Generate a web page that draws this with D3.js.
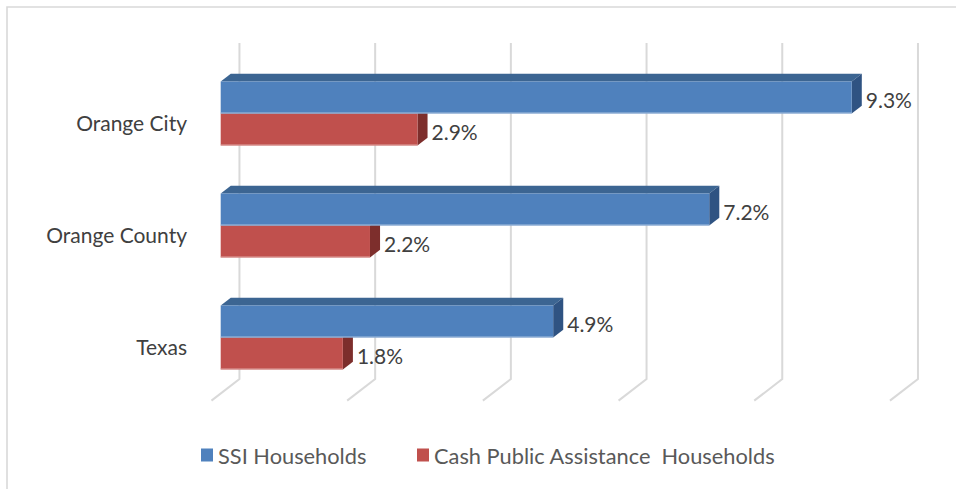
<!DOCTYPE html>
<html>
<head>
<meta charset="utf-8">
<script src="https://cdn.jsdelivr.net/npm/d3@7"></script>
<style>
  html, body { margin: 0; padding: 0; background: #ffffff; }
  svg { display: block; }
  text { font-family: Lato, "Open Sans", sans-serif; }
</style>
</head>
<body>
<svg id="chart" width="956" height="489"></svg>
<script>
// Share of households receiving income support, by area (%)
const categories = ["Orange City", "Orange County", "Texas"];
const seriesNames = ["SSI Households", "Cash Public Assistance  Households"];
const ssiValues = [9.3, 7.2, 4.9];
const cashValues = [2.9, 2.2, 1.8];
const xTicks = [0, 2, 4, 6, 8, 10];

const colors = {
  front: ["#4f81bd", "#c0504d"],
  top:   ["#3c6592", "#933c3a"],
  side:  ["#2f5382", "#7d2e2c"],
  edge:  ["#a9c0de", "#e0a4a2"]
};

const svg = d3.select("#chart");
const W = 956, H = 489;

// Oblique 3-D projection: full depth of the plot box, and where the bars sit in it
const depth = [28, -21.5];
const barFront = 0.33, barBack = 0.69;
const shift = f => [(f - barFront) * depth[0], (f - barFront) * depth[1]];
const wall = shift(1), floorFront = shift(0), barDepth = shift(barBack);

// Scales on the plane of the bars' front faces
const x = d3.scaleLinear().domain([0, 10]).range([220.7, 899.2]);
const y = d3.scaleBand().domain(categories)
  .range([57.5, 393.5]).paddingInner(0.4286).paddingOuter(0.2143);
const ySub = d3.scaleBand().domain(seriesNames).range([0, y.bandwidth()]);

// Chart frame
svg.append("path")
  .attr("d", `M7,${H} L7,7 L${W},7`)
  .attr("fill", "none").attr("stroke", "#d9d9d9").attr("stroke-width", 1.6);

// Gridlines: back wall verticals folding into the floor
const yTop = y.range()[0], yBot = y.range()[1];
svg.append("g").selectAll("path").data(xTicks).join("path")
  .attr("d", t => {
    const xb = x(t) + wall[0];
    return `M${xb},${yTop + wall[1]} L${xb},${yBot + wall[1]} ` +
           `L${x(t) + floorFront[0]},${yBot + floorFront[1]}`;
  })
  .attr("fill", "none").attr("stroke", "#d9d9d9").attr("stroke-width", 2);

// Bars: lower series first so the upper bar's front face hides its top
const rows = [];
categories.forEach((c, i) => {
  [ssiValues[i], cashValues[i]].forEach((v, s) => rows.push({ c, s, v }));
});
const drawOrder = rows.slice().sort((a, b) =>
  categories.indexOf(a.c) - categories.indexOf(b.c) || b.s - a.s);

const bars = svg.append("g").selectAll("g").data(drawOrder).join("g");

bars.each(function(d) {
  const g = d3.select(this);
  const x0 = x(0), x1 = x(d.v);
  const y0 = y(d.c) + ySub(seriesNames[d.s]);
  const y1 = y0 + ySub.bandwidth();
  const [dx, dy] = barDepth;
  // top face
  g.append("path")
    .attr("d", `M${x0},${y0} L${x0 + dx},${y0 + dy} L${x1 + dx},${y0 + dy} L${x1},${y0} Z`)
    .attr("fill", colors.top[d.s]);
  // end face
  g.append("path")
    .attr("d", `M${x1},${y0} L${x1 + dx},${y0 + dy} L${x1 + dx},${y1 + dy} L${x1},${y1} Z`)
    .attr("fill", colors.side[d.s]);
  // front face
  g.append("rect")
    .attr("x", x0).attr("y", y0)
    .attr("width", x1 - x0).attr("height", y1 - y0)
    .attr("fill", colors.front[d.s]);
  g.append("line")
    .attr("x1", x0).attr("x2", x1).attr("y1", y1 - 0.5).attr("y2", y1 - 0.5)
    .attr("stroke", colors.edge[d.s]).attr("stroke-width", 1);
});

// Value labels
svg.append("g").selectAll("text").data(rows).join("text")
  .attr("x", d => x(d.v) + barDepth[0] + 4)
  .attr("y", d => y(d.c) + ySub(seriesNames[d.s]) + ySub.bandwidth() / 2 + 2)
  .attr("dominant-baseline", "central")
  .attr("font-size", 21)
  .attr("fill", "#404040")
  .text(d => d.v.toFixed(1) + "%");

// Category labels, sitting on the front edge of the floor
svg.append("g").selectAll("text").data(categories).join("text")
  .attr("x", 187)
  .attr("y", c => y(c) + y.bandwidth() / 2 + floorFront[1] + 2)
  .attr("text-anchor", "end")
  .attr("dominant-baseline", "central")
  .attr("font-size", 21)
  .attr("fill", "#404040")
  .text(c => c);

// Legend
const legendX = [201, 417];
const legend = svg.append("g").selectAll("g").data(seriesNames).join("g")
  .attr("transform", (d, i) => `translate(${legendX[i]},455)`);
legend.append("rect")
  .attr("x", 0).attr("y", -6.5).attr("width", 12).attr("height", 13)
  .attr("fill", (d, i) => colors.front[i]);
legend.append("text")
  .attr("x", 17).attr("y", 0)
  .attr("dominant-baseline", "central")
  .attr("font-size", 21.8)
  .attr("fill", "#595959")
  .style("white-space", "pre")
  .text(d => d);
</script>
</body>
</html>
